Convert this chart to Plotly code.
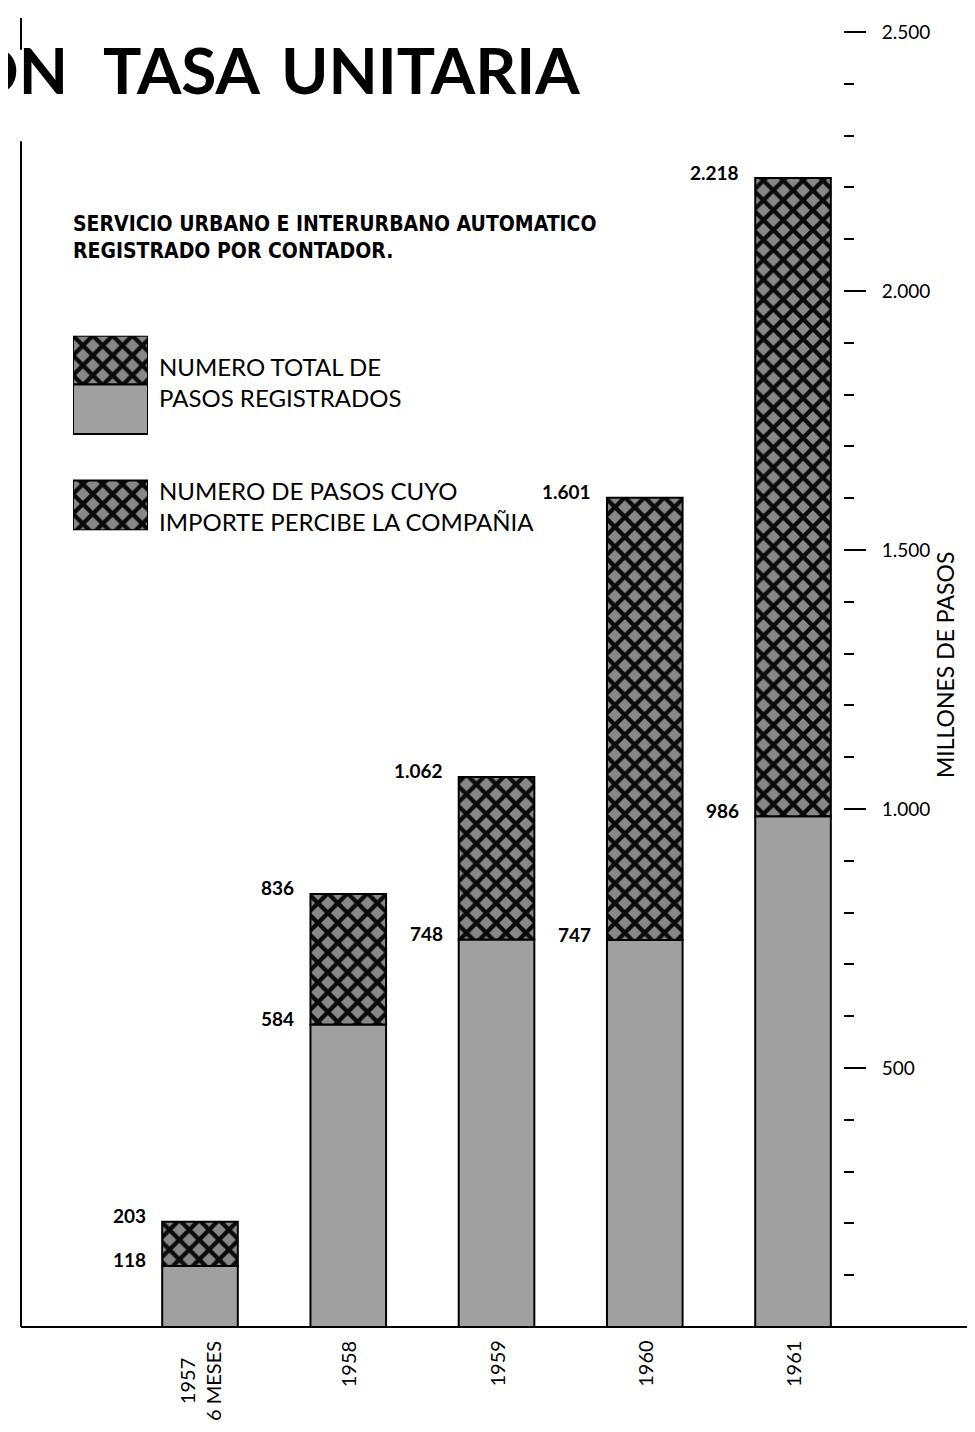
import plotly.graph_objects as go

# ---- data ----
categorias = ["1957<br>6 MESES", "1958", "1959", "1960", "1961"]
totales = [203, 836, 1062, 1601, 2218]
parte_inferior = [118, 584, 748, 747, 986]
tick_valores = [500, 1000, 1500, 2000, 2500]
tick_textos = ["500", "1.000", "1.500", "2.000", "2.500"]
minor_valores = [v for v in range(100, 2500, 100) if v % 500 != 0]

titulo_palabras = ["ON", "TASA", "UNITARIA"]
subtitulo = "SERVICIO URBANO E INTERURBANO AUTOMATICO<br>REGISTRADO POR CONTADOR."
leyenda_1 = "NUMERO TOTAL DE<br>PASOS REGISTRADOS"
leyenda_2 = "NUMERO DE PASOS CUYO<br>IMPORTE PERCIBE LA COMPAÑIA"
eje_titulo = "MILLONES DE PASOS"

# ---- geometry (page has an 8px body margin) ----
OFF = 8
W, H = 975 - OFF, 1432 - OFF
ML, MT = 21 - OFF, 22 - OFF
MR = W - (843 - OFF)
MB = H - (1327 - OFF)
PW = W - ML - MR
PH = H - MT - MB

def px_x(px):
    return (px - OFF - ML) / PW

def px_y(py):
    return (H - MB - (py - OFF)) / PH

GRAY = "#a0a0a0"
HATCH_BG = "#888888"
hatch = dict(shape="x", fillmode="replace", bgcolor=HATCH_BG, fgcolor="#0a0a0a",
             size=14, solidity=0.52)

FONT = "Lato, 'Open Sans', sans-serif"
fmt = lambda v: f"{v:,}".replace(",", ".")

xs = list(range(len(categorias)))
superior = [t - b for t, b in zip(totales, parte_inferior)]

fig = go.Figure()
fig.add_trace(go.Bar(x=xs, y=parte_inferior, base=[0] * len(xs), width=0.51,
                     marker=dict(color=GRAY, line=dict(color="black", width=2)),
                     showlegend=False, hoverinfo="skip"))
fig.add_trace(go.Bar(x=xs, y=superior, base=parte_inferior, width=0.51,
                     marker=dict(color=HATCH_BG, pattern=hatch,
                                 line=dict(color="black", width=2)),
                     showlegend=False, hoverinfo="skip"))

# legend swatches on a small helper axis (pixel units, 0 = y 524)
fig.add_trace(go.Bar(x=[0.5], y=[50], base=[97], width=1, xaxis="x2", yaxis="y2",
                     marker=dict(color=GRAY, line=dict(color="black", width=2)),
                     showlegend=False, hoverinfo="skip"))
fig.add_trace(go.Bar(x=[0.5, 0.5], y=[49, 50], base=[147, 0], width=1, xaxis="x2", yaxis="y2",
                     marker=dict(color=HATCH_BG, pattern=hatch,
                                 line=dict(color="black", width=2)),
                     showlegend=False, hoverinfo="skip"))

ann = []
# value labels
for i, (t, b) in enumerate(zip(totales, parte_inferior)):
    for v in (t, b):
        ann.append(dict(x=i, y=v, xref="x", yref="y", text=fmt(v), showarrow=False,
                        xanchor="right", yanchor="middle", xshift=-52, yshift=6,
                        font=dict(family=FONT, size=19, color="black", weight="bold")))
# category labels
for i, c in enumerate(categorias):
    ann.append(dict(x=i, y=0, xref="x", yref="y", text=c, showarrow=False,
                    textangle=-90, xanchor="center", yanchor="top", yshift=-12,
                    align="center",
                    font=dict(family=FONT, size=20, color="black")))
# title words (the first word is cut by the page edge, as in the original)
for palabra, (xp, anc) in zip(titulo_palabras, [(70, "right"), (182, "center"), (430, "center")]):
    ann.append(dict(x=px_x(xp), y=px_y(101), xref="paper", yref="paper", text=palabra,
                    showarrow=False, xanchor=anc, yanchor="bottom",
                    font=dict(family=FONT, size=64, color="black", weight="bold")))
ann.append(dict(x=px_x(71), y=px_y(201), xref="paper", yref="paper", text=subtitulo,
                showarrow=False, xanchor="left", yanchor="top", align="left",
                font=dict(family="'DejaVu Sans Condensed', 'DejaVu Sans', sans-serif",
                          size=21, color="black", weight="bold")))
# legend texts
ann.append(dict(x=px_x(157), y=px_y(375), xref="paper", yref="paper", text=leyenda_1,
                showarrow=False, xanchor="left", yanchor="middle", align="left",
                font=dict(family=FONT, size=24, color="black")))
ann.append(dict(x=px_x(157), y=px_y(500), xref="paper", yref="paper", text=leyenda_2,
                showarrow=False, xanchor="left", yanchor="middle", align="left",
                font=dict(family=FONT, size=24, color="black")))
# axis title
ann.append(dict(x=px_x(945), y=px_y(660), xref="paper", yref="paper", text=eje_titulo,
                showarrow=False, textangle=-90, xanchor="center", yanchor="middle",
                font=dict(family=FONT, size=23, color="black")))

shapes = [
    dict(type="line", xref="paper", yref="paper", x0=0, x1=px_x(972), y0=0, y1=0,
         line=dict(color="black", width=2)),
    dict(type="line", xref="paper", yref="paper", x0=0, x1=0, y0=0, y1=px_y(132),
         line=dict(color="black", width=2)),
    dict(type="line", xref="paper", yref="paper", x0=0, x1=0, y0=px_y(40), y1=px_y(OFF),
         line=dict(color="black", width=2)),
    dict(type="line", xref="paper", yref="paper", x0=px_x(971), x1=px_x(971),
         y0=0, y1=px_y(300), line=dict(color="black", width=1.5)),
]

fig.update_layout(
    width=W, height=H,
    margin=dict(l=ML, r=MR, t=MT, b=MB),
    paper_bgcolor="white", plot_bgcolor="white",
    barmode="overlay",
    showlegend=False,
    annotations=ann,
    shapes=shapes,
    xaxis=dict(range=[-1.2074, 4.337], showticklabels=False, showgrid=False,
               zeroline=False, showline=False, ticks=""),
    yaxis=dict(range=[0, 2500], side="right", showgrid=False, zeroline=False,
               showline=False, tickmode="array", tickvals=tick_valores,
               ticktext=tick_textos, ticks="outside", ticklen=22, tickwidth=1.5,
               tickcolor="black", ticklabelstandoff=12,
               tickfont=dict(family=FONT, size=19, color="black"),
               minor=dict(tickmode="array", tickvals=minor_valores, ticks="outside",
                          ticklen=10, tickwidth=1.5, tickcolor="black")),
    xaxis2=dict(domain=[px_x(73), px_x(148)], range=[0, 1], visible=False,
                anchor="y2"),
    yaxis2=dict(domain=[px_y(524), px_y(328)], range=[0, 196], visible=False,
                anchor="x2"),
)

fig.write_html("out.html")
